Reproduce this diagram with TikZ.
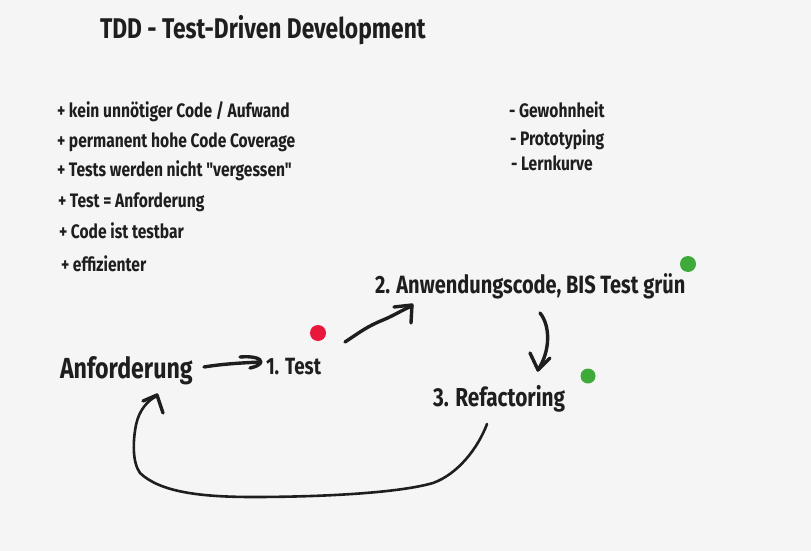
\documentclass[tikz,border=0pt]{standalone}
\usepackage{fontspec}
\newfontfamily\hand{Fira Sans}[FakeStretch=0.8]
\definecolor{bg}{HTML}{F5F5F5}
\definecolor{ink}{HTML}{1E1E1E}
\definecolor{dotred}{HTML}{E8173B}
\definecolor{dotgreen}{HTML}{3DAA3A}
\tikzset{
  txt/.style={inner sep=0pt, outer sep=0pt, anchor=base west, text=ink},
  small/.style={txt, font=\hand\bfseries\fontsize{19.5}{22}\selectfont},
  big/.style={txt, font=\hand\bfseries\fontsize{25}{30}\selectfont},
  stroke/.style={draw=ink, line width=3.4pt, line cap=round, line join=round},
  thin stroke/.style={draw=ink, line width=2.6pt, line cap=round, line join=round},
  dot/.style={circle, inner sep=0pt, minimum size=#1}
}
\begin{document}
\begin{tikzpicture}[x=1pt,y=-1pt]
\fill[bg] (0,0) rectangle (811,551);
\useasboundingbox (0,0) rectangle (811,551);

\node[txt, font=\hand\bfseries\fontsize{28.5}{32}\selectfont] (title) at (100,39) {TDD - Test-Driven Development};

\node[small] (p1) at (57,117) {+ kein unnötiger Code / Aufwand};
\node[small] (p2) at (57,147) {+ permanent hohe Code Coverage};
\node[small] (p3) at (57,176) {+ Tests werden nicht "vergessen"};
\node[small] (p4) at (58,207) {+ Test = Anforderung};
\node[small] (p5) at (59,238) {+ Code ist testbar};
\node[small] (p6) at (61,271) {+ effizienter};

\node[small] (m1) at (509,117) {- Gewohnheit};
\node[small] (m2) at (510,145) {- Prototyping};
\node[small] (m3) at (511,170) {- Lernkurve};

\node[txt, font=\hand\bfseries\fontsize{29}{34}\selectfont] (anf) at (60,378) {Anforderung};
\node[txt, font=\hand\bfseries\fontsize{23.5}{28}\selectfont] (test) at (266,374) {1. Test};
\node[big] (anw) at (375,293) {2. Anwendungscode, BIS Test grün};
\node[txt, font=\hand\bfseries\fontsize{26}{30}\selectfont] (ref) at (433,406) {3. Refactoring};

\node[dot=16pt, fill=dotred] (r1) at (318,333) {};
\node[dot=16pt, fill=dotgreen] (g1) at (688,264) {};
\node[dot=15pt, fill=dotgreen] (g2) at (588,376) {};

% arrow 1: Anforderung -> 1. Test
\coordinate (a1s) at (204,367);
\coordinate (a1e) at (260,362);
\draw[stroke] (a1s) .. controls (222,364) and (240,363) .. (a1e);
\draw[stroke] (240,357) .. controls (252,356) and (261,358) .. (261,362) .. controls (260,365) and (255,367) .. (250,368);

% arrow 2: 1. Test -> 2. Anwendungscode
\coordinate (a2s) at (345,342);
\coordinate (a2e) at (412,306);
\draw[stroke] (a2s) .. controls (360,332) and (368,326) .. (383,320) .. controls (395,315) and (402,310) .. (a2e);
\draw[stroke] (394,307) -- (412,305) -- (411,323);

% arrow 3: 2. Anwendungscode -> 3. Refactoring
\coordinate (a3s) at (540,313);
\coordinate (a3e) at (538,370);
\draw[stroke] (a3s) .. controls (550,325) and (551,350) .. (a3e);
\draw[stroke] (530,353) -- (538,370) -- (550,358);

% arrow 4: 3. Refactoring -> Anforderung
\coordinate (a4s) at (487,424);
\coordinate (a4e) at (157,396);
\draw[thin stroke] (a4s) .. controls (478,448) and (458,474) .. (433,483)
  .. controls (395,494) and (310,497) .. (253,497)
  .. controls (200,497) and (160,492) .. (140,473)
  .. controls (132,462) and (133,440) .. (136,425)
  .. controls (139,410) and (148,400) .. (a4e);
\draw[stroke] (143,401) -- (157,395) -- (163,413);
\end{tikzpicture}
\end{document}
